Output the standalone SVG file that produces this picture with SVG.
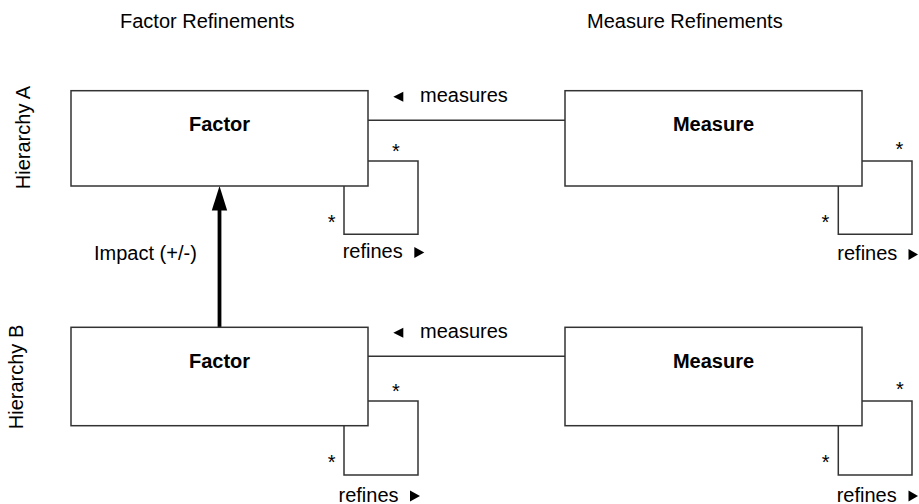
<svg xmlns="http://www.w3.org/2000/svg" width="919" height="504" viewBox="0 0 919 504">
<style>
text{font-family:"Liberation Sans",Arial,sans-serif;font-size:20px;fill:#000}
.b{font-weight:bold}
.m{text-anchor:middle}
.box{fill:#fff;stroke:#333;stroke-width:1.5}
.ln{fill:none;stroke:#333;stroke-width:1.5}
.tri{fill:#000}
</style>
<rect width="919" height="504" fill="#fff"/>
<g id="headers">
<text x="120" y="28">Factor Refinements</text>
<text x="587" y="28">Measure Refinements</text>
<text class="m" transform="translate(29.5,137.5) rotate(-90)">Hierarchy A</text>
<text class="m" transform="translate(23,377) rotate(-90)">Hierarchy B</text>
</g>
<g id="connectors">
<path class="ln" d="M368 120.3H565"/>
<path class="ln" d="M368 161H418V234.3H344V186"/>
<path class="ln" d="M862 161H912V234.3H838.3V186"/>
<path class="ln" d="M368 356.3H565"/>
<path class="ln" d="M368 401H418V475H344V425.7"/>
<path class="ln" d="M862 401H912V475H838.3V425.7"/>
<line x1="219.5" y1="327.3" x2="219.5" y2="205" stroke="#000" stroke-width="3.8"/>
<polygon points="219.5,186 211.8,210.5 227.2,210.5" fill="#000"/>
</g>
<g id="labels">
<polygon class="tri" points="393.3,96.7 403.3,91.7 403.3,101.7"/>
<text x="420" y="101.7">measures</text>
<polygon class="tri" points="393.3,332.7 403.3,327.7 403.3,337.7"/>
<text x="420" y="337.7">measures</text>
<text x="94" y="260">Impact (+/-)</text>
<text class="m" x="396" y="158">*</text>
<text class="m" x="331.7" y="229">*</text>
<text x="342.7" y="258.3">refines</text>
<polygon class="tri" points="414.3,247 424.3,252.5 414.3,258"/>
<text class="m" x="899.5" y="155.5">*</text>
<text class="m" x="825.5" y="229">*</text>
<text x="837.3" y="260">refines</text>
<polygon class="tri" points="908.5,249 918,254.5 908.5,260"/>
<text class="m" x="396" y="397.5">*</text>
<text class="m" x="331.7" y="469">*</text>
<text x="338.5" y="501.5">refines</text>
<polygon class="tri" points="410,490.5 420,496 410,501.5"/>
<text class="m" x="900" y="396">*</text>
<text class="m" x="825.7" y="469">*</text>
<text x="836.7" y="501.5">refines</text>
<polygon class="tri" points="908.5,490.5 918,496 908.5,501.5"/>
</g>
<g id="factorA">
<rect class="box" x="71" y="90.7" width="297" height="95.3"/>
<text class="b m" x="219.5" y="131">Factor</text>
</g>
<g id="measureA">
<rect class="box" x="565" y="90.7" width="297" height="95.3"/>
<text class="b m" x="713.5" y="131">Measure</text>
</g>
<g id="factorB">
<rect class="box" x="71" y="327.3" width="297" height="98.4"/>
<text class="b m" x="219.5" y="368">Factor</text>
</g>
<g id="measureB">
<rect class="box" x="565" y="327.3" width="297" height="98.4"/>
<text class="b m" x="713.5" y="368">Measure</text>
</g>
</svg>
